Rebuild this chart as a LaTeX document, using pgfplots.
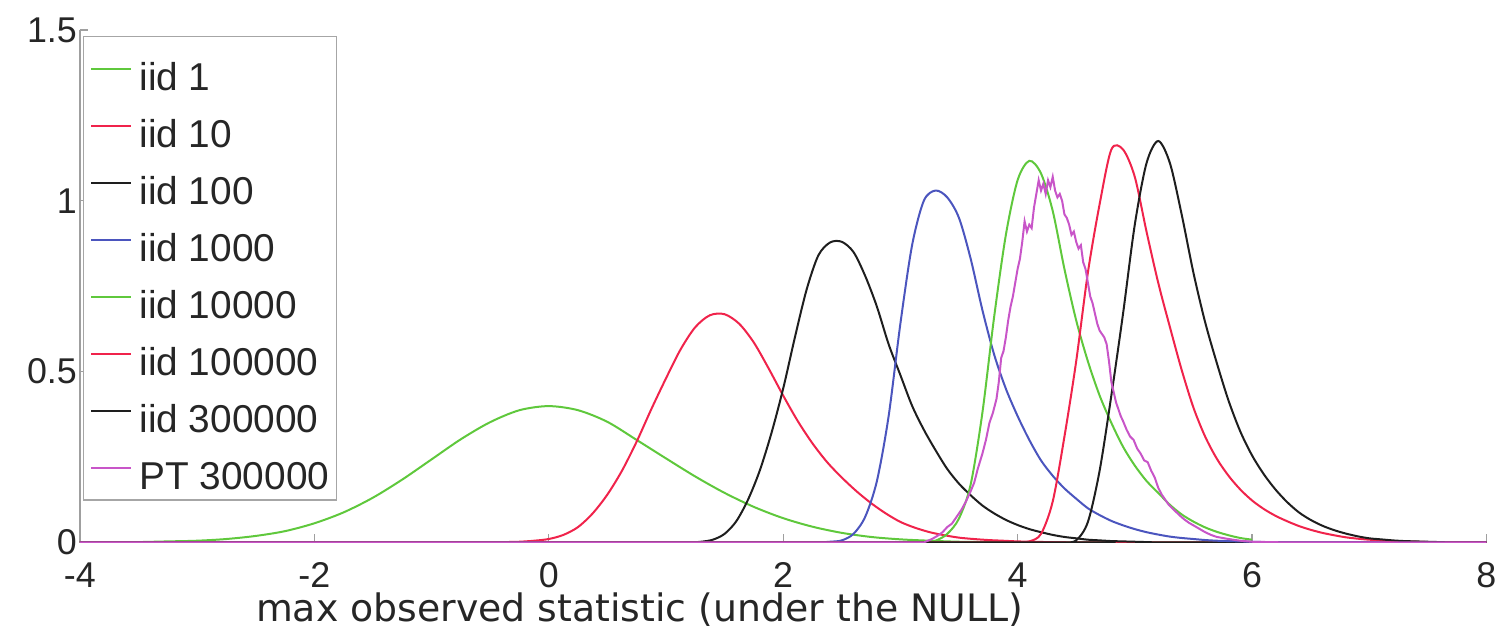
\documentclass[border=0pt]{standalone}
\usepackage{fontspec}
\setmainfont{Liberation Sans}
\newfontfamily\dejavu{DejaVu Sans}
\usepackage{pgfplots}
\pgfplotsset{compat=1.18}
\definecolor{cgreen}{RGB}{95,200,60}
\definecolor{cred}{RGB}{240,35,75}
\definecolor{cblack}{RGB}{30,30,30}
\definecolor{cblue}{RGB}{75,85,190}
\definecolor{cmag}{RGB}{200,85,200}
\begin{document}
\begin{tikzpicture}
\begin{axis}[name=ax, scale only axis, width=704bp, height=256.5bp,
  xmin=-4, xmax=8, ymin=0, ymax=1.5,
  axis x line*=bottom, axis y line*=left,
  axis line style={gray!75, line width=0.8bp, -},
  xtick={-4,-2,0,2,4,6,8}, xticklabels={-4,-2,0,2,4,6,8},
  ytick={0,0.5,1,1.5}, yticklabels={0,0.5,1,1.5},
  tick align=inside, major tick length=4bp,
  tick style={gray!75, line width=0.6bp},
  ticklabel style={font=\fontsize{18}{18}\selectfont, text=black!85},
  xticklabel style={yshift=-6.5bp},
  yticklabel style={xshift=2bp},
  xlabel={max observed statistic (under the NULL)},
  xlabel style={font=\dejavu\fontsize{19}{19}\selectfont, text=black!85,
    at={(axis description cs:0.398,0)}, anchor=base, yshift=-39.5bp},
  legend style={at={(axis description cs:0.0021,0.9883)}, anchor=north west,
    draw=gray!70, line width=0.6bp, fill=white,
    font=\fontsize{19.5}{19.5}\selectfont, text=black!85,
    inner xsep=3.5bp, inner ysep=2bp, row sep=0bp, column sep=3.5bp,
    nodes={text height=25bp, text depth=3.5bp, inner sep=0bp}},
  legend cell align=left,
  legend image code/.code={\draw[#1, line width=1bp] (0bp,0bp) -- (20bp,0bp);},
  every axis plot/.append style={line width=1bp},
]
% iid 1
\addplot[cgreen, smooth, tension=0.5] coordinates {
(-4.0,0.000) (-3.75,0.0005) (-3.5,0.001) (-3.25,0.003) (-3.0,0.005) (-2.75,0.010) (-2.5,0.019)
(-2.25,0.033) (-2.0,0.056) (-1.75,0.088) (-1.5,0.131) (-1.25,0.184) (-1.0,0.243)
(-0.75,0.302) (-0.5,0.352) (-0.25,0.387) (0.0,0.399) (0.25,0.387) (0.5,0.353)
(0.75,0.300) (1.0,0.246) (1.25,0.193) (1.5,0.145) (1.75,0.104) (2.0,0.071)
(2.25,0.046) (2.5,0.028) (2.75,0.016) (3.0,0.009) (3.25,0.005) (3.5,0.002)
(3.75,0.001) (4.0,0.0005) (4.25,0) (4.5,0) (6.0,0)};
\addlegendentry{iid 1}
% iid 10
\addplot[cred, smooth, tension=0.5] coordinates {
(-4.0,0) (-0.75,0) (-0.625,0) (-0.5,0) (-0.375,0.001) (-0.25,0.002) (-0.125,0.005)
(0.0,0.010) (0.125,0.022) (0.25,0.045) (0.375,0.085) (0.5,0.140) (0.625,0.210)
(0.75,0.295) (0.875,0.390) (1.0,0.480) (1.125,0.565) (1.25,0.630) (1.375,0.665)
(1.5,0.668) (1.625,0.640) (1.75,0.585) (1.875,0.510) (2.0,0.430) (2.125,0.355)
(2.25,0.290) (2.375,0.235) (2.5,0.190) (2.625,0.150) (2.75,0.115) (2.875,0.085)
(3.0,0.060) (3.125,0.043) (3.25,0.030) (3.375,0.021) (3.5,0.014) (3.625,0.010)
(3.75,0.007) (3.875,0.005) (4.0,0.003) (4.125,0.002) (4.25,0.001) (4.375,0)
(4.5,0) (8.0,0)};
\addlegendentry{iid 10}
% iid 100
\addplot[cblack, smooth, tension=0.5] coordinates {
(-4.0,0) (1.0,0) (1.1,0) (1.2,0) (1.3,0.002) (1.4,0.008) (1.5,0.025) (1.6,0.062)
(1.7,0.125) (1.8,0.21) (1.9,0.32) (2.0,0.45) (2.1,0.60) (2.2,0.74) (2.3,0.84)
(2.4,0.878) (2.5,0.88) (2.6,0.85) (2.7,0.78) (2.8,0.69) (2.9,0.58) (3.0,0.49)
(3.1,0.40) (3.2,0.33) (3.3,0.27) (3.4,0.215) (3.5,0.172) (3.6,0.138) (3.7,0.108)
(3.8,0.085) (3.9,0.066) (4.0,0.051) (4.1,0.039) (4.2,0.030) (4.3,0.022)
(4.4,0.016) (4.5,0.012) (4.6,0.008) (4.7,0.006) (4.8,0.004) (4.9,0.003)
(5.0,0.002) (5.1,0.001) (5.2,0) (5.3,0) (8.0,0)};
\addlegendentry{iid 100}
% iid 1000
\addplot[cblue, smooth, tension=0.5] coordinates {
(-4.0,0) (2.2,0) (2.3,0) (2.4,0.002) (2.5,0.006) (2.6,0.025) (2.7,0.075)
(2.8,0.18) (2.9,0.37) (3.0,0.64) (3.1,0.87) (3.2,1.0) (3.3,1.03) (3.4,1.01)
(3.5,0.95) (3.6,0.83) (3.7,0.68) (3.8,0.55) (3.9,0.45) (4.0,0.37) (4.1,0.30)
(4.2,0.24) (4.3,0.195) (4.4,0.158) (4.5,0.128) (4.6,0.10) (4.7,0.08)
(4.8,0.063) (4.9,0.05) (5.0,0.039) (5.1,0.030) (5.2,0.023) (5.3,0.017)
(5.4,0.013) (5.5,0.010) (5.6,0.007) (5.7,0.005) (5.8,0.004) (5.9,0.003)
(6.0,0.002) (6.1,0.001) (6.2,0) (6.3,0) (8.0,0)};
\addlegendentry{iid 1000}
% iid 10000
\addplot[cgreen, smooth, tension=0.5] coordinates {
(-4.0,0) (3.1,0) (3.2,0) (3.3,0.005) (3.4,0.025) (3.5,0.07) (3.6,0.17)
(3.7,0.38) (3.8,0.66) (3.9,0.90) (4.0,1.06) (4.1,1.117) (4.2,1.08) (4.3,0.97)
(4.4,0.80) (4.5,0.65) (4.6,0.53) (4.7,0.43) (4.8,0.35) (4.9,0.28) (5.0,0.225)
(5.1,0.18) (5.2,0.145) (5.3,0.11) (5.4,0.082) (5.5,0.061) (5.6,0.044)
(5.7,0.031) (5.8,0.021) (5.9,0.013) (6.0,0.008)};
\addlegendentry{iid 10000}
% iid 100000
\addplot[cred, smooth, tension=0.5] coordinates {
(-4.0,0) (3.9,0) (4.0,0) (4.1,0.003) (4.2,0.025) (4.3,0.12) (4.4,0.31)
(4.5,0.53) (4.6,0.79) (4.7,0.99) (4.8,1.15) (4.9,1.15) (5.0,1.07) (5.1,0.91)
(5.2,0.76) (5.3,0.63) (5.4,0.505) (5.5,0.395) (5.6,0.31) (5.7,0.245)
(5.8,0.195) (5.9,0.155) (6.0,0.123) (6.1,0.098) (6.2,0.078) (6.3,0.062)
(6.4,0.048) (6.5,0.037) (6.6,0.028) (6.7,0.021) (6.8,0.015) (6.9,0.011)
(7.0,0.008) (7.1,0.006) (7.2,0.004) (7.3,0.003) (7.4,0.002) (7.5,0.001)
(7.6,0) (7.7,0) (8.0,0)};
\addlegendentry{iid 100000}
% iid 300000
\addplot[cblack, smooth, tension=0.5] coordinates {
(-4.0,0) (4.3,0) (4.4,0) (4.5,0.006) (4.6,0.06) (4.7,0.21) (4.8,0.43)
(4.9,0.67) (5.0,0.93) (5.1,1.11) (5.2,1.175) (5.3,1.11) (5.4,0.96) (5.5,0.79)
(5.6,0.645) (5.7,0.525) (5.8,0.415) (5.9,0.325) (6.0,0.255) (6.1,0.20)
(6.2,0.155) (6.3,0.118) (6.4,0.088) (6.5,0.066) (6.6,0.049) (6.7,0.036)
(6.8,0.026) (6.9,0.018) (7.0,0.012) (7.1,0.009) (7.2,0.006) (7.3,0.004)
(7.4,0.003) (7.5,0.002) (7.6,0.001) (7.7,0) (7.8,0) (8.0,0)};
\addlegendentry{iid 300000}
% PT 300000
\addplot[cmag] coordinates {
(-4.0,0) (3.20,0.000) (3.27,0.010) (3.32,0.020) (3.36,0.030) (3.40,0.045)
(3.44,0.055) (3.48,0.075) (3.52,0.095) (3.56,0.120) (3.60,0.150) (3.63,0.175)
(3.66,0.215) (3.70,0.260) (3.73,0.300) (3.76,0.350) (3.79,0.380) (3.82,0.420)
(3.84,0.470) (3.86,0.540) (3.88,0.560) (3.90,0.600) (3.92,0.650) (3.94,0.690)
(3.96,0.720) (3.98,0.760) (4.00,0.800) (4.02,0.830) (4.04,0.880) (4.06,0.940)
(4.08,0.910) (4.10,0.930) (4.12,0.920) (4.14,0.980) (4.16,1.020) (4.18,1.060)
(4.20,1.030) (4.22,1.050) (4.24,1.020) (4.26,1.060) (4.28,1.040) (4.30,1.070)
(4.32,1.030) (4.34,1.010) (4.36,1.020) (4.38,1.000) (4.40,0.960) (4.42,0.950)
(4.44,0.930) (4.46,0.900) (4.48,0.910) (4.50,0.880) (4.52,0.860) (4.54,0.870)
(4.56,0.820) (4.58,0.800) (4.60,0.760) (4.62,0.720) (4.64,0.700) (4.66,0.670)
(4.68,0.640) (4.70,0.620) (4.72,0.610) (4.74,0.600) (4.76,0.580) (4.78,0.530)
(4.80,0.470) (4.82,0.440) (4.84,0.410) (4.86,0.390) (4.88,0.370) (4.90,0.355)
(4.93,0.330) (4.96,0.310) (4.99,0.300) (5.02,0.275) (5.05,0.260) (5.08,0.240)
(5.11,0.235) (5.14,0.210) (5.17,0.190) (5.20,0.160) (5.23,0.140) (5.26,0.125)
(5.29,0.110) (5.32,0.100) (5.35,0.090) (5.38,0.080) (5.42,0.068) (5.46,0.058)
(5.50,0.050) (5.55,0.040) (5.60,0.030) (5.65,0.022) (5.70,0.016) (5.80,0.010)
(5.90,0.005) (6.00,0.002) (6.30,0.000) (8.00,0.000)};
\addlegendentry{PT 300000}
\end{axis}
\path (ax.south west) ++(-40bp,-43.5bp) rectangle ++(751.5bp,315bp);
\end{tikzpicture}
\end{document}
